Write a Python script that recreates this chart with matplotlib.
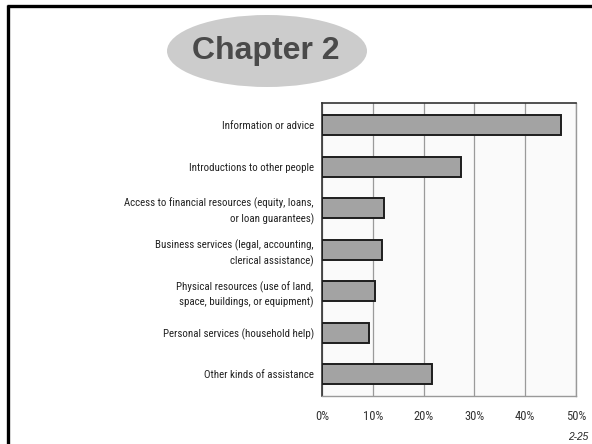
import matplotlib
matplotlib.use("Agg")
import matplotlib.pyplot as plt
from matplotlib.patches import Ellipse
from matplotlib.lines import Line2D
from matplotlib.ticker import FuncFormatter
from matplotlib import font_manager

categories = [
    "Information or advice",
    "Introductions to other people",
    "Access to financial resources (equity, loans,\nor loan guarantees)",
    "Business services (legal, accounting,\nclerical assistance)",
    "Physical resources (use of land,\nspace, buildings, or equipment)",
    "Personal services (household help)",
    "Other kinds of assistance",
]
values = [47.1, 27.3, 12.2, 11.9, 10.4, 9.3, 21.6]
xticks = [0, 10, 20, 30, 40, 50]
title = "Chapter 2"
page_label = "2-25"

names = {f.name for f in font_manager.fontManager.ttflist}
narrow = "Liberation Sans"
for cand in ["Liberation Sans Narrow", "Arial Narrow", "Roboto Condensed",
             "Archivo Narrow", "PT Sans Narrow", "Pragati Narrow", "Asap Condensed"]:
    if cand in names:
        narrow = cand
        break

fig = plt.figure(figsize=(5.92, 4.44), dpi=100)
fig.patch.set_facecolor("white")

# slide frame (left and top)
fig.add_artist(Line2D([8.0/592, 8.0/592], [0, 1 - 5/444], transform=fig.transFigure,
                      color="black", lw=2.4, solid_capstyle="butt"))
fig.add_artist(Line2D([7/592, 1], [1 - 6/444, 1 - 6/444], transform=fig.transFigure,
                      color="black", lw=2.4, solid_capstyle="butt"))

# title ellipse
fig.add_artist(Ellipse((267/592, 1 - 51/444), 200/592, 72/444, transform=fig.transFigure,
                       facecolor="#cccccc", edgecolor="none"))
fig.text(266/592, 1 - 51/444, title, ha="center", va="center", fontsize=23,
         fontweight="bold", color="#4a4a4a", family="Liberation Sans")

ax = fig.add_axes([322/592, 1 - 396/444, (576 - 322)/592, (396 - 103)/444])
ax.set_facecolor("#fafafa")
y = list(range(len(categories)))
ax.barh(y, values, height=0.48, color="#a3a3a3", edgecolor="#1e1e1e", linewidth=1.4, zorder=3)
ax.set_ylim(len(categories) - 0.5 + 0.02, -0.53)
ax.set_xlim(0, 50)
ax.set_xticks(xticks)
ax.xaxis.set_major_formatter(FuncFormatter(lambda v, p: f"{int(v)}%"))
ax.set_yticks(y)
ax.set_yticklabels(categories, fontsize=7.8, family=narrow, color="#222222",
                   linespacing=1.45, ha="right")
for lbl in ax.get_xticklabels():
    lbl.set_family(narrow)
    lbl.set_fontsize(9)
    lbl.set_color("#333333")
ax.tick_params(axis="both", length=0)
ax.tick_params(axis="x", pad=10)
ax.tick_params(axis="y", pad=6)
ax.grid(axis="x", color="#9a9a9a", lw=0.9, zorder=1)
for s in ["top", "left"]:
    ax.spines[s].set_color("#333333")
    ax.spines[s].set_linewidth(1.2)
for s in ["right", "bottom"]:
    ax.spines[s].set_color("#999999")
    ax.spines[s].set_linewidth(1.0)

fig.text(588/592, 1 - 437/444, page_label, ha="right", va="center", fontsize=7.3,
         style="italic", color="#222222", family="Liberation Sans")

fig.savefig("out.png", dpi=100)
